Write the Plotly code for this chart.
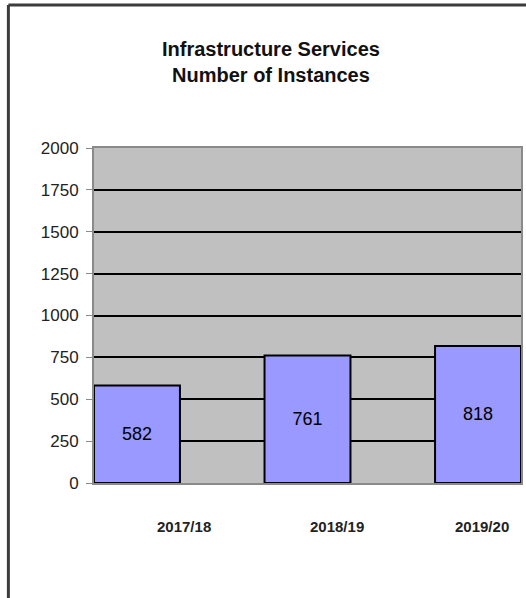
import plotly.graph_objects as go

categories = ["2017/18", "2018/19", "2019/20"]
instances = [582, 761, 818]
y_ticks = [0, 250, 500, 750, 1000, 1250, 1500, 1750, 2000]
title_lines = ["Infrastructure Services", "Number of Instances"]

# style: horizontal offsets of the category labels relative to the bars
label_offsets = [0.274, 0.172, 0.023]

fig = go.Figure(
    go.Bar(
        x=categories,
        y=instances,
        width=0.504,
        marker=dict(color="#9999FF", line=dict(color="black", width=2)),
        text=[str(v) for v in instances],
        textposition="inside",
        insidetextanchor="middle",
        textangle=0,
        textfont=dict(family="Liberation Sans, Arial", size=18, color="black"),
        hoverinfo="skip",
    )
)

fig.update_layout(
    width=526,
    height=598,
    margin=dict(l=94, r=3, t=148, b=115),
    paper_bgcolor="white",
    plot_bgcolor="#C0C0C0",
    showlegend=False,
    xaxis=dict(
        type="category",
        range=[-0.252, 2.252],
        showticklabels=False,
        showgrid=False,
        showline=True,
        mirror=True,
        linecolor="#8a8a8a",
        linewidth=2,
        ticks="",
        layer="below traces",
        fixedrange=True,
    ),
    yaxis=dict(
        range=[0, 2000],
        tickvals=y_ticks,
        ticktext=[str(t) for t in y_ticks],
        showgrid=True,
        gridcolor="black",
        gridwidth=2,
        zeroline=False,
        showline=True,
        mirror=True,
        linecolor="#8a8a8a",
        linewidth=2,
        ticks="outside",
        ticklen=6,
        tickcolor="#8a8a8a",
        ticklabelstandoff=4,
        tickfont=dict(family="Liberation Sans, Arial", size=17, color="#222222"),
        layer="below traces",
        fixedrange=True,
    ),
)

# category labels
for i, cat in enumerate(categories):
    fig.add_annotation(
        x=i + label_offsets[i],
        y=-0.131,
        xref="x",
        yref="paper",
        text=f"<b>{cat}</b>",
        showarrow=False,
        xanchor="center",
        yanchor="middle",
        font=dict(family="Liberation Sans, Arial", size=15, color="#222222"),
    )

# title
fig.add_annotation(
    x=0.415,
    y=1.2567,
    xref="paper",
    yref="paper",
    text="<b>" + "<br>".join(title_lines) + "</b>",
    showarrow=False,
    xanchor="center",
    yanchor="middle",
    align="center",
    font=dict(family="Liberation Sans, Arial", size=20, color="#111111"),
)

# outer chart frame (left and top edges visible)
frame_x = -0.2005
frame_y = 1.4269
fig.add_shape(type="line", xref="paper", yref="paper",
              x0=frame_x, y0=-0.5, x1=frame_x, y1=frame_y,
              line=dict(color="#3c3c3c", width=3))
fig.add_shape(type="line", xref="paper", yref="paper",
              x0=frame_x, y0=frame_y, x1=1.1, y1=frame_y,
              line=dict(color="#3c3c3c", width=3))

fig.write_html("out.html")
